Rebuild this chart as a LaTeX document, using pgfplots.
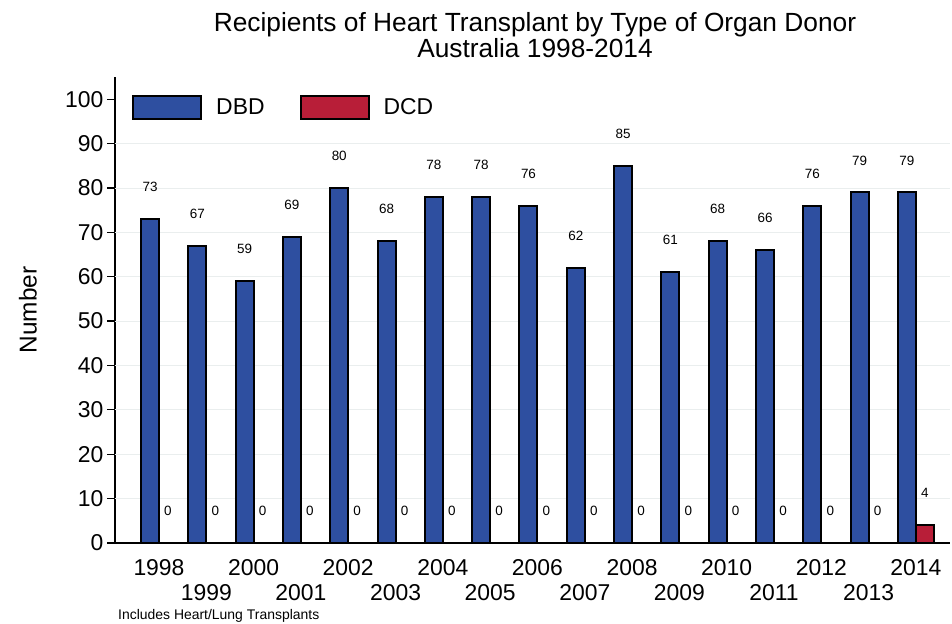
\documentclass[border=0pt]{standalone}
\usepackage{pgfplots}
\pgfplotsset{compat=1.18}
\usepackage{fontspec}
\setmainfont{Liberation Sans}
\definecolor{dbd}{RGB}{46,79,160}
\definecolor{dcd}{RGB}{184,30,56}
\definecolor{gridc}{RGB}{234,238,238}
\pgfplotsset{
  sq/.style={legend image code/.code={\draw[##1, line width=2bp] (0bp,-11.5bp) rectangle (68bp,11.5bp);}},
}
\begin{document}
\begin{tikzpicture}
\useasboundingbox (-115bp,-81bp) rectangle (837bp,543bp);
\begin{axis}[
  scale only axis, width=835bp, height=466bp,
  xmin=-0.93, xmax=16.72, ymin=0, ymax=105,
  axis x line*=bottom, axis y line*=left,
  axis line style={line width=1.2bp, -},
  ybar, bar width=0.38,
  /pgf/number format/assume math mode=true,
  ytick={0,10,...,100},
  xtick={0,...,16},
  xticklabels={1998,{\vphantom{1}\\1999},2000,{\vphantom{1}\\2001},2002,{\vphantom{1}\\2003},2004,{\vphantom{1}\\2005},2006,{\vphantom{1}\\2007},2008,{\vphantom{1}\\2009},2010,{\vphantom{1}\\2011},2012,{\vphantom{1}\\2013},2014},
  xticklabel style={align=center, font=\fontsize{23}{25}\selectfont, yshift=-5bp},
  yticklabel style={font=\fontsize{23}{25}\selectfont},
  major x tick style={draw=none},
  tick align=outside, major tick length=8bp,
  major y tick style={line width=1.2bp, black},
  extra y ticks={10,20,...,90}, extra y tick labels={},
  extra y tick style={ymajorgrids=true, major tick length=0pt, major y tick style={draw=none}},
  major grid style={gridc, line width=0.8bp},
  ylabel={Number},
  every axis y label/.style={at={(axis description cs:0,0.5)}, xshift=-87bp, rotate=90, anchor=center, font=\fontsize{24.5}{26}\selectfont},
  nodes near coords,
  nodes near coords style={font=\fontsize{13.5}{15}\selectfont, anchor=center, yshift=32bp, black},
  legend columns=-1,
  legend style={draw=none, fill=none, inner sep=0pt, at={(0.0204,0.9356)}, anchor=west,
    font=\fontsize{23}{25}\selectfont, nodes={inner sep=0pt},
    /tikz/every odd column/.append style={column sep=14bp},
    /tikz/every even column/.append style={column sep=35bp}},
]
\addplot[fill=dbd, draw=black, line width=2bp, bar shift=-0.19, sq] coordinates {
(0,73) (1,67) (2,59) (3,69) (4,80) (5,68) (6,78) (7,78) (8,76) (9,62) (10,85) (11,61) (12,68) (13,66) (14,76) (15,79) (16,79)};
\addplot[fill=dcd, draw=black, line width=2bp, bar shift=0.19, sq] coordinates {
(0,0) (1,0) (2,0) (3,0) (4,0) (5,0) (6,0) (7,0) (8,0) (9,0) (10,0) (11,0) (12,0) (13,0) (14,0) (15,0) (16,4)};
\legend{DBD,DCD}
\end{axis}
\node[align=center, font=\fontsize{26.4}{25.5}\selectfont] at (420bp,508bp) {Recipients of Heart Transplant by Type of Organ Donor\\Australia 1998-2014};
\node[anchor=base west, inner sep=0pt, font=\fontsize{14}{16}\selectfont] at (3bp,-76bp) {Includes Heart/Lung Transplants};
\end{tikzpicture}
\end{document}
